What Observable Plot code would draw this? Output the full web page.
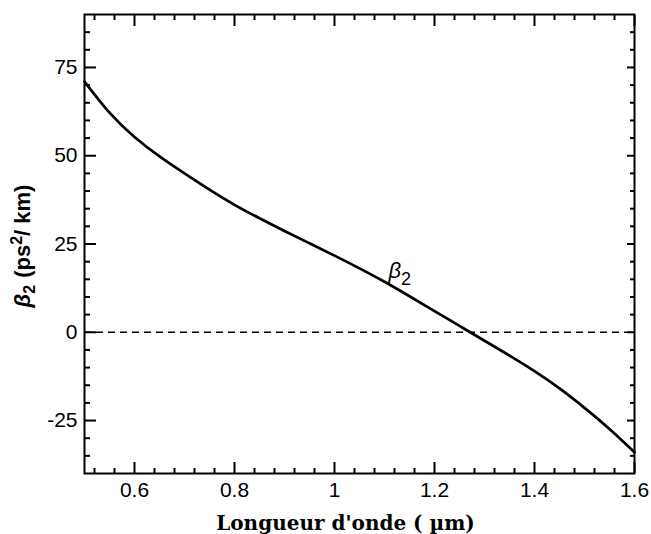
<!DOCTYPE html>
<html>
<head>
<meta charset="utf-8">
<script src="https://cdn.jsdelivr.net/npm/d3@7"></script>
<script src="https://cdn.jsdelivr.net/npm/@observablehq/plot@0.6"></script>
<style>
  html, body { margin: 0; padding: 0; background: #fff; }
  svg { display: block; }
</style>
</head>
<body>
<div id="chart"></div>
<script>
// Data
const wavelength = [0.5, 0.55, 0.6, 0.65, 0.7, 0.75, 0.8, 0.85, 0.9, 0.95, 1.0, 1.05, 1.1, 1.15, 1.2, 1.25, 1.3, 1.35, 1.4, 1.45, 1.5, 1.55, 1.6];
const beta2 = [71, 62.2, 55.3, 49.8, 45.0, 40.4, 36.1, 32.3, 28.7, 25.2, 21.7, 18.1, 14.3, 10.2, 6.0, 1.8, -2.4, -6.6, -11, -15.9, -21.4, -27.4, -34];

const xMajor = [0.6, 0.8, 1, 1.2, 1.4, 1.6];
const xMajorLabels = ["0.6", "0.8", "1", "1.2", "1.4", "1.6"];
const xMinor = [0.52, 0.56, 0.64, 0.68, 0.72, 0.76, 0.84, 0.88, 0.92, 0.96, 1.04, 1.08, 1.12, 1.16, 1.24, 1.28, 1.32, 1.36, 1.44, 1.48, 1.52, 1.56];
const yMajor = [-25, 0, 25, 50, 75];
const yMajorLabels = ["-25", "0", "25", "50", "75"];
const yMinor = [-35, -30, -20, -15, -10, -5, 5, 10, 15, 20, 30, 35, 40, 45, 55, 60, 65, 70, 80, 85];

const curveLabelAt = [{x: 1.1, y: 14.3}];
const xTitle = "Longueur d'onde ( µm)";
const yTitle = "YTITLE";
const curveLabel = "CURVELABEL";

const data = wavelength.map((w, i) => ({w, b: beta2[i]}));
const xFmt = d => xMajorLabels[xMajor.indexOf(d)];
const yFmt = d => yMajorLabels[yMajor.indexOf(d)];

const tickFont = "'Liberation Sans', Arial, Helvetica, sans-serif";

const plot = Plot.plot({
  width: 651,
  height: 534,
  marginLeft: 84,
  marginRight: 17,
  marginTop: 14,
  marginBottom: 61,
  style: {background: "#fff", color: "#000", overflow: "visible"},
  x: {domain: [0.5, 1.6]},
  y: {domain: [-40, 90]},
  marks: [
    Plot.ruleY([0], {strokeDasharray: "7,5", strokeWidth: 1.7}),
    Plot.line(data, {x: "w", y: "b", curve: "natural", strokeWidth: 2.7}),
    Plot.frame({strokeWidth: 2}),
    // inward ticks, all four sides
    Plot.axisX({anchor: "bottom", ticks: xMajor, tickSize: -11, strokeWidth: 2, fill: "none", label: null}),
    Plot.axisX({anchor: "bottom", ticks: xMinor, tickSize: -5, strokeWidth: 2, fill: "none", label: null}),
    Plot.axisX({anchor: "top", ticks: xMajor, tickSize: -11, strokeWidth: 2, fill: "none", label: null}),
    Plot.axisX({anchor: "top", ticks: xMinor, tickSize: -5, strokeWidth: 2, fill: "none", label: null}),
    Plot.axisY({anchor: "left", ticks: yMajor, tickSize: -12, strokeWidth: 2, fill: "none", label: null}),
    Plot.axisY({anchor: "left", ticks: yMinor, tickSize: -6, strokeWidth: 2, fill: "none", label: null}),
    Plot.axisY({anchor: "right", ticks: yMajor, tickSize: -8, strokeWidth: 2, fill: "none", label: null}),
    Plot.axisY({anchor: "right", ticks: yMinor, tickSize: -5, strokeWidth: 2, fill: "none", label: null}),
    // tick labels
    Plot.axisX({anchor: "bottom", ticks: xMajor, tickSize: 0, tickPadding: 9, tickFormat: xFmt, fontSize: 21, fontFamily: tickFont, label: null}),
    Plot.axisY({anchor: "left", ticks: yMajor, tickSize: 0, tickPadding: 7, tickFormat: yFmt, fontSize: 21, fontFamily: tickFont, label: null}),
    // titles
    Plot.text([xTitle], {frameAnchor: "bottom", text: d => d, dx: -14, dy: 50, textAnchor: "middle", lineAnchor: "middle", fontSize: 20, fontWeight: "bold", fontFamily: "'DejaVu Serif', 'Liberation Serif', serif"}),
    Plot.text([yTitle], {frameAnchor: "left", text: d => d, dx: -62, dy: 2, rotate: -90, textAnchor: "middle", lineAnchor: "middle", fontSize: 22, fontWeight: "bold", fontFamily: tickFont}),
    Plot.text(curveLabelAt, {x: "x", y: "y", text: () => curveLabel, dx: 4, dy: -11, textAnchor: "start", lineAnchor: "middle", fontSize: 22, fontFamily: tickFont})
  ]
});

document.getElementById("chart").appendChild(plot);

// Rich formatting (italic beta, sub/superscripts)
const svg = d3.select(plot);
svg.selectAll("text").each(function() {
  const t = d3.select(this);
  const s = this.textContent;
  if (s === yTitle) {
    t.text(null);
    t.append("tspan").attr("font-style", "italic").text("β");
    t.append("tspan").attr("dy", "5").attr("font-size", "16").text("2");
    t.append("tspan").attr("dy", "-5").attr("dx", "7").text("(ps");
    t.append("tspan").attr("dy", "-8").attr("font-size", "16").text("2");
    t.append("tspan").attr("dy", "8").text("/ km)");
  } else if (s === curveLabel) {
    t.text(null);
    t.append("tspan").attr("font-style", "italic").text("β");
    t.append("tspan").attr("dy", "7").attr("font-size", "18").text("2");
  }
});
</script>
</body>
</html>
